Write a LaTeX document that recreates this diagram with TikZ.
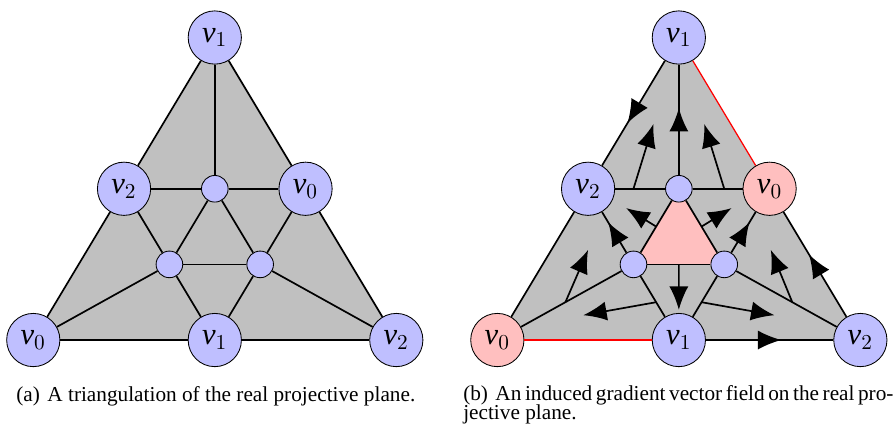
\documentclass[tikz,border=0pt]{standalone}
\usepackage{fontspec}
\setmainfont{Liberation Serif}
\usetikzlibrary{arrows.meta,decorations.markings,calc}
\definecolor{rpvert}{HTML}{BFBFFF}
\definecolor{rpcrit}{HTML}{FFBFBF}
\definecolor{rpface}{HTML}{C0C0C0}
\newcommand\rpcapfont{\fontsize{10}{8.7}\selectfont\lineskiplimit -6pt\relax}
\tikzset{
  bigv/.style={circle, draw=black, fill=rpvert, minimum size=0.88cm, inner sep=0pt, font=\Large},
  smallv/.style={circle, draw=black, fill=rpvert, minimum size=0.44cm, inner sep=0pt},
  crit/.style={fill=rpcrit},
  edg/.style={thick},
  redg/.style={red, semithick},
  flow/.style={thick, postaction={decorate}, decoration={markings, mark=at position 0.5 with {\arrow[xshift=5.5pt]{Latex[length=11pt,width=9pt]}}}},
  grad/.style={thick, -{Latex[length=11pt,width=9pt]}},
  capnote/.style={anchor=base west, inner sep=0pt, font=\rpcapfont},
}
\begin{document}
\begin{tikzpicture}
  \useasboundingbox (-0.55,-1.455) rectangle (14.226,5.62);
  % (a) the triangulation
  \begin{scope}[name prefix=a-]
    \fill[rpface] (0,0) -- (3,5) -- (6,0) -- cycle;
    \node[bigv] (v1t) at (3,5) {$\mathit{v}_1$};
    \node[bigv] (v2m) at (1.5,2.5) {$\mathit{v}_2$};
    \node[bigv] (v0m) at (4.5,2.5) {$\mathit{v}_0$};
    \node[bigv] (v0b) at (0,0) {$\mathit{v}_0$};
    \node[bigv] (v1b) at (3,0) {$\mathit{v}_1$};
    \node[bigv] (v2b) at (6,0) {$\mathit{v}_2$};
    \node[smallv] (it) at (3,2.5) {};
    \node[smallv] (il) at (2.25,1.25) {};
    \node[smallv] (ir) at (3.75,1.25) {};
    \foreach \a/\b in {v0b/v2m, v2m/v1t, v1t/v0m, v0m/v2b, v2b/v1b, v1b/v0b,
                       v1t/it, v2m/it, it/v0m, it/il, it/ir, il/ir,
                       v2m/il, v0m/ir, il/v0b, il/v1b, ir/v1b, ir/v2b}
      \draw[edg] (\a) -- (\b);
  \end{scope}
  % (b) the gradient field
  \begin{scope}[shift={(7.67,0)}, name prefix=b-]
    \fill[rpface] (0,0) -- (3,5) -- (6,0) -- cycle;
    \fill[rpcrit] (3,2.5) -- (2.25,1.25) -- (3.75,1.25) -- cycle;
    \node[bigv] (v1t) at (3,5) {$\mathit{v}_1$};
    \node[bigv] (v2m) at (1.5,2.5) {$\mathit{v}_2$};
    \node[bigv, crit] (v0m) at (4.5,2.5) {$\mathit{v}_0$};
    \node[bigv, crit] (v0b) at (0,0) {$\mathit{v}_0$};
    \node[bigv] (v1b) at (3,0) {$\mathit{v}_1$};
    \node[bigv] (v2b) at (6,0) {$\mathit{v}_2$};
    \node[smallv] (it) at (3,2.5) {};
    \node[smallv] (il) at (2.25,1.25) {};
    \node[smallv] (ir) at (3.75,1.25) {};
    \foreach \a/\b in {v0b/v2m, v2m/it, it/v0m, it/il, it/ir, il/ir,
                       il/v0b, il/v1b, ir/v1b, ir/v2b}
      \draw[edg] (\a) -- (\b);
    \draw[redg] (v1t) -- (v0m);
    \draw[redg] (v1b) -- (v0b);
    % vertex to edge
    \foreach \a/\b in {v1t/v2m, v1b/v2b, v2b/v0m, it/v1t, il/v2m, ir/v0m}
      \draw[flow] (\a) -- (\b);
    % edge to face
    \coordinate (te) at (2.58,3.57);
    \coordinate (tf) at (3.42,3.57);
    \coordinate (tg) at (2.13,2.18);
    \coordinate (th) at (3.87,2.18);
    \coordinate (ti) at (3,0.5);
    \coordinate (tl) at (1.50,1.49);
    \coordinate (to) at (4.52,1.49);
    \coordinate (tm) at (1.42,0.41);
    \coordinate (tn) at (4.58,0.41);
    \foreach \a/\b/\t in {v2m/it/te, it/v0m/tf, it/il/tg, it/ir/th, il/ir/ti,
                          v0b/il/tl, ir/v2b/to, il/v1b/tm, ir/v1b/tn}
      \draw[grad] ($(\a)!0.5!(\b)$) -- (\t);
  \end{scope}
  \node[capnote] (capa) at (-0.286,-1.008)
    {(a)\hspace{3.5pt}A triangulation of the real projective plane.};
  \node[capnote, align=left] (capb) at (7.10,-1.306)
    {\makebox[7.1cm][s]{(b)\hspace{3.5pt}An induced gradient vector field on the real pro-}\\jective plane.};
\end{tikzpicture}
\end{document}
